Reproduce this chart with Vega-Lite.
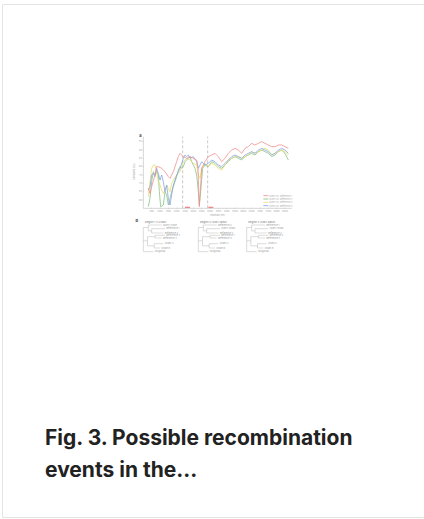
{
  "$schema": "https://vega.github.io/schema/vega-lite/v6.json",
  "width": 424,
  "height": 513,
  "autosize": {"type": "none"},
  "padding": {"left": 2, "top": 4, "right": 0, "bottom": 2},
  "background": "white",
  "config": {"view": {"stroke": "#e4e4e4", "strokeWidth": 1}, "font": "Inter"},
  "title": {
    "text": ["Fig. 3. Possible recombination", "events in the..."],
    "orient": "bottom", "anchor": "start", "frame": "group",
    "offset": -72, "dx": 43,
    "font": "Inter", "fontSize": 21, "fontWeight": 700, "color": "#222222",
    "lineHeight": 31.5, "baseline": "alphabetic"
  },
  "datasets": {
    "sim": [
      {"series":"Reference 2","pos":300,"sim":56},{"series":"Reference 2","pos":400,"sim":61},{"series":"Reference 2","pos":500,"sim":71},{"series":"Reference 2","pos":600,"sim":77},{"series":"Reference 2","pos":700,"sim":75},{"series":"Reference 2","pos":800,"sim":77},{"series":"Reference 2","pos":900,"sim":75},{"series":"Reference 2","pos":960,"sim":65},{"series":"Reference 2","pos":1040,"sim":56},{"series":"Reference 2","pos":1200,"sim":57},{"series":"Reference 2","pos":1300,"sim":65},{"series":"Reference 2","pos":1400,"sim":63},{"series":"Reference 2","pos":1500,"sim":57},{"series":"Reference 2","pos":1600,"sim":61},{"series":"Reference 2","pos":1700,"sim":65},{"series":"Reference 2","pos":1800,"sim":68},{"series":"Reference 2","pos":1900,"sim":71},{"series":"Reference 2","pos":2000,"sim":74},{"series":"Reference 2","pos":2100,"sim":78},{"series":"Reference 2","pos":2200,"sim":80},{"series":"Reference 2","pos":2300,"sim":79},{"series":"Reference 2","pos":2400,"sim":80},{"series":"Reference 2","pos":2500,"sim":83},{"series":"Reference 2","pos":2600,"sim":84},{"series":"Reference 2","pos":2700,"sim":85},{"series":"Reference 2","pos":2800,"sim":86},{"series":"Reference 2","pos":2900,"sim":83},{"series":"Reference 2","pos":3000,"sim":81},{"series":"Reference 2","pos":3100,"sim":79},{"series":"Reference 2","pos":3200,"sim":75},{"series":"Reference 2","pos":3300,"sim":65},{"series":"Reference 2","pos":3360,"sim":57},{"series":"Reference 2","pos":3440,"sim":65},{"series":"Reference 2","pos":3560,"sim":79},{"series":"Reference 2","pos":3700,"sim":81},{"series":"Reference 2","pos":3900,"sim":80},{"series":"Reference 2","pos":4100,"sim":83},{"series":"Reference 2","pos":4300,"sim":82},{"series":"Reference 2","pos":4500,"sim":80},{"series":"Reference 2","pos":4700,"sim":79},{"series":"Reference 2","pos":4900,"sim":81},{"series":"Reference 2","pos":5100,"sim":83},{"series":"Reference 2","pos":5300,"sim":85},{"series":"Reference 2","pos":5500,"sim":86},{"series":"Reference 2","pos":5700,"sim":85},{"series":"Reference 2","pos":5900,"sim":84},{"series":"Reference 2","pos":6100,"sim":86},{"series":"Reference 2","pos":6300,"sim":87},{"series":"Reference 2","pos":6500,"sim":88},{"series":"Reference 2","pos":6700,"sim":87},{"series":"Reference 2","pos":6900,"sim":89},{"series":"Reference 2","pos":7100,"sim":90},{"series":"Reference 2","pos":7300,"sim":89},{"series":"Reference 2","pos":7500,"sim":88},{"series":"Reference 2","pos":7700,"sim":86},{"series":"Reference 2","pos":7900,"sim":87},{"series":"Reference 2","pos":8100,"sim":89},{"series":"Reference 2","pos":8300,"sim":90},{"series":"Reference 2","pos":8500,"sim":88},{"series":"Reference 2","pos":8700,"sim":84},
      {"series":"Reference 3","pos":300,"sim":62},{"series":"Reference 3","pos":400,"sim":71},{"series":"Reference 3","pos":500,"sim":79},{"series":"Reference 3","pos":600,"sim":81},{"series":"Reference 3","pos":700,"sim":81},{"series":"Reference 3","pos":800,"sim":77},{"series":"Reference 3","pos":900,"sim":71},{"series":"Reference 3","pos":1000,"sim":69},{"series":"Reference 3","pos":1100,"sim":66},{"series":"Reference 3","pos":1200,"sim":64},{"series":"Reference 3","pos":1300,"sim":66},{"series":"Reference 3","pos":1400,"sim":69},{"series":"Reference 3","pos":1500,"sim":67},{"series":"Reference 3","pos":1600,"sim":65},{"series":"Reference 3","pos":1700,"sim":70},{"series":"Reference 3","pos":1800,"sim":72},{"series":"Reference 3","pos":2000,"sim":75},{"series":"Reference 3","pos":2200,"sim":77},{"series":"Reference 3","pos":2400,"sim":83},{"series":"Reference 3","pos":2600,"sim":85},{"series":"Reference 3","pos":2800,"sim":84},{"series":"Reference 3","pos":3000,"sim":82},{"series":"Reference 3","pos":3200,"sim":81},{"series":"Reference 3","pos":3300,"sim":75},{"series":"Reference 3","pos":3400,"sim":73},{"series":"Reference 3","pos":3500,"sim":79},{"series":"Reference 3","pos":3700,"sim":82},{"series":"Reference 3","pos":3900,"sim":80},{"series":"Reference 3","pos":4100,"sim":82},{"series":"Reference 3","pos":4300,"sim":81},{"series":"Reference 3","pos":4500,"sim":79},{"series":"Reference 3","pos":4700,"sim":78},{"series":"Reference 3","pos":4900,"sim":81},{"series":"Reference 3","pos":5100,"sim":84},{"series":"Reference 3","pos":5300,"sim":85},{"series":"Reference 3","pos":5500,"sim":86},{"series":"Reference 3","pos":5700,"sim":86},{"series":"Reference 3","pos":5900,"sim":85},{"series":"Reference 3","pos":6100,"sim":86},{"series":"Reference 3","pos":6300,"sim":87},{"series":"Reference 3","pos":6500,"sim":89},{"series":"Reference 3","pos":6700,"sim":88},{"series":"Reference 3","pos":6900,"sim":89},{"series":"Reference 3","pos":7100,"sim":90},{"series":"Reference 3","pos":7300,"sim":91},{"series":"Reference 3","pos":7500,"sim":90},{"series":"Reference 3","pos":7700,"sim":87},{"series":"Reference 3","pos":7900,"sim":88},{"series":"Reference 3","pos":8100,"sim":89},{"series":"Reference 3","pos":8300,"sim":90},{"series":"Reference 3","pos":8500,"sim":89},{"series":"Reference 3","pos":8700,"sim":87},
      {"series":"Reference 4","pos":300,"sim":66},{"series":"Reference 4","pos":400,"sim":68},{"series":"Reference 4","pos":500,"sim":75},{"series":"Reference 4","pos":600,"sim":76},{"series":"Reference 4","pos":700,"sim":74},{"series":"Reference 4","pos":800,"sim":79},{"series":"Reference 4","pos":900,"sim":76},{"series":"Reference 4","pos":1000,"sim":72},{"series":"Reference 4","pos":1100,"sim":75},{"series":"Reference 4","pos":1200,"sim":71},{"series":"Reference 4","pos":1300,"sim":65},{"series":"Reference 4","pos":1400,"sim":69},{"series":"Reference 4","pos":1500,"sim":61},{"series":"Reference 4","pos":1600,"sim":57},{"series":"Reference 4","pos":1700,"sim":63},{"series":"Reference 4","pos":1800,"sim":69},{"series":"Reference 4","pos":2000,"sim":75},{"series":"Reference 4","pos":2200,"sim":79},{"series":"Reference 4","pos":2400,"sim":85},{"series":"Reference 4","pos":2500,"sim":87},{"series":"Reference 4","pos":2600,"sim":86},{"series":"Reference 4","pos":2700,"sim":87},{"series":"Reference 4","pos":2800,"sim":85},{"series":"Reference 4","pos":3000,"sim":86},{"series":"Reference 4","pos":3200,"sim":83},{"series":"Reference 4","pos":3300,"sim":79},{"series":"Reference 4","pos":3400,"sim":81},{"series":"Reference 4","pos":3500,"sim":83},{"series":"Reference 4","pos":3700,"sim":81},{"series":"Reference 4","pos":3900,"sim":82},{"series":"Reference 4","pos":4100,"sim":84},{"series":"Reference 4","pos":4300,"sim":83},{"series":"Reference 4","pos":4500,"sim":81},{"series":"Reference 4","pos":4700,"sim":80},{"series":"Reference 4","pos":4900,"sim":82},{"series":"Reference 4","pos":5100,"sim":84},{"series":"Reference 4","pos":5300,"sim":86},{"series":"Reference 4","pos":5500,"sim":87},{"series":"Reference 4","pos":5700,"sim":86},{"series":"Reference 4","pos":5900,"sim":85},{"series":"Reference 4","pos":6100,"sim":87},{"series":"Reference 4","pos":6300,"sim":88},{"series":"Reference 4","pos":6500,"sim":89},{"series":"Reference 4","pos":6700,"sim":88},{"series":"Reference 4","pos":6900,"sim":90},{"series":"Reference 4","pos":7100,"sim":91},{"series":"Reference 4","pos":7300,"sim":90},{"series":"Reference 4","pos":7500,"sim":89},{"series":"Reference 4","pos":7700,"sim":87},{"series":"Reference 4","pos":7900,"sim":88},{"series":"Reference 4","pos":8100,"sim":90},{"series":"Reference 4","pos":8300,"sim":91},{"series":"Reference 4","pos":8500,"sim":90},{"series":"Reference 4","pos":8700,"sim":88},
      {"series":"Reference 1","pos":300,"sim":67},{"series":"Reference 1","pos":400,"sim":64},{"series":"Reference 1","pos":500,"sim":68},{"series":"Reference 1","pos":700,"sim":75},{"series":"Reference 1","pos":800,"sim":80},{"series":"Reference 1","pos":900,"sim":80},{"series":"Reference 1","pos":1100,"sim":79},{"series":"Reference 1","pos":1300,"sim":77},{"series":"Reference 1","pos":1500,"sim":74},{"series":"Reference 1","pos":1600,"sim":73},{"series":"Reference 1","pos":1800,"sim":77},{"series":"Reference 1","pos":2000,"sim":83},{"series":"Reference 1","pos":2100,"sim":86},{"series":"Reference 1","pos":2200,"sim":88},{"series":"Reference 1","pos":2400,"sim":86},{"series":"Reference 1","pos":2600,"sim":85},{"series":"Reference 1","pos":2800,"sim":86},{"series":"Reference 1","pos":3000,"sim":85},{"series":"Reference 1","pos":3200,"sim":84},{"series":"Reference 1","pos":3280,"sim":79},{"series":"Reference 1","pos":3360,"sim":56},{"series":"Reference 1","pos":3440,"sim":69},{"series":"Reference 1","pos":3500,"sim":79},{"series":"Reference 1","pos":3700,"sim":83},{"series":"Reference 1","pos":3900,"sim":86},{"series":"Reference 1","pos":4100,"sim":87},{"series":"Reference 1","pos":4300,"sim":88},{"series":"Reference 1","pos":4500,"sim":86},{"series":"Reference 1","pos":4700,"sim":83},{"series":"Reference 1","pos":4900,"sim":85},{"series":"Reference 1","pos":5100,"sim":88},{"series":"Reference 1","pos":5300,"sim":90},{"series":"Reference 1","pos":5500,"sim":91},{"series":"Reference 1","pos":5700,"sim":90},{"series":"Reference 1","pos":5900,"sim":88},{"series":"Reference 1","pos":6100,"sim":91},{"series":"Reference 1","pos":6300,"sim":92},{"series":"Reference 1","pos":6500,"sim":94},{"series":"Reference 1","pos":6700,"sim":93},{"series":"Reference 1","pos":6900,"sim":94},{"series":"Reference 1","pos":7100,"sim":95},{"series":"Reference 1","pos":7300,"sim":94},{"series":"Reference 1","pos":7500,"sim":93},{"series":"Reference 1","pos":7700,"sim":92},{"series":"Reference 1","pos":7900,"sim":92},{"series":"Reference 1","pos":8100,"sim":93},{"series":"Reference 1","pos":8300,"sim":93},{"series":"Reference 1","pos":8500,"sim":92},{"series":"Reference 1","pos":8700,"sim":91}
    ],
    "legend": [
      {"series":"Reference 1","pos":7200,"pos2":7500,"sim":62.6,"label":"Query vs. Reference 1"},
      {"series":"Reference 2","pos":7200,"pos2":7500,"sim":60.6,"label":"Query vs. Reference 2"},
      {"series":"Reference 3","pos":7200,"pos2":7500,"sim":58.6,"label":"Query vs. Reference 3"},
      {"series":"Reference 4","pos":7200,"pos2":7500,"sim":56.6,"label":"Query vs. Reference 4"}
    ],
    "frame": [
      {"x1":0,"x2":0,"y1":55,"y2":98},
      {"x1":0,"x2":8900,"y1":55,"y2":55}
    ],
    "xticks": [
      {"v":500,"t":"500"},{"v":1000,"t":"1000"},{"v":1500,"t":"1500"},{"v":2000,"t":"2000"},{"v":2500,"t":"2500"},{"v":3000,"t":"3000"},{"v":3500,"t":"3500"},{"v":4000,"t":"4000"},{"v":4500,"t":"4500"},{"v":5000,"t":"5000"},{"v":5500,"t":"5500"},{"v":6000,"t":"6000"},{"v":6500,"t":"6500"},{"v":7000,"t":"7000"},{"v":7500,"t":"7500"},{"v":8000,"t":"8000"},{"v":8500,"t":"8500"}
    ],
    "yticks": [
      {"v":60,"t":"60"},{"v":65,"t":"65"},{"v":70,"t":"70"},{"v":75,"t":"75"},{"v":80,"t":"80"},{"v":85,"t":"85"},{"v":90,"t":"90"},{"v":95,"t":"95"}
    ],
    "breaks": [{"pos":2360},{"pos":3860}],
    "bars": [{"x1":2500,"x2":2800},{"x1":3900,"x2":4200}],
    "tree": [
      {"x1":0,"x2":0,"y1":43.5,"y2":29},{"x1":0,"x2":300,"y1":43.5,"y2":43.5},{"x1":300,"x2":300,"y1":45,"y2":41.5},{"x1":300,"x2":1100,"y1":45,"y2":45},{"x1":300,"x2":500,"y1":41.5,"y2":41.5},{"x1":500,"x2":500,"y1":42.8,"y2":40.2},{"x1":500,"x2":1300,"y1":42.8,"y2":42.8},{"x1":500,"x2":1200,"y1":40.2,"y2":40.2},{"x1":0,"x2":250,"y1":35.5,"y2":35.5},{"x1":250,"x2":250,"y1":38,"y2":32.5},{"x1":250,"x2":700,"y1":38,"y2":38},{"x1":700,"x2":700,"y1":38.8,"y2":37.2},{"x1":700,"x2":1300,"y1":38.8,"y2":38.8},{"x1":700,"x2":1100,"y1":37.2,"y2":37.2},{"x1":250,"x2":650,"y1":32.5,"y2":32.5},{"x1":650,"x2":650,"y1":33.8,"y2":31.2},{"x1":650,"x2":1200,"y1":33.8,"y2":33.8},{"x1":650,"x2":1000,"y1":31.2,"y2":31.2},{"x1":0,"x2":600,"y1":29,"y2":29},
      {"x1":3300,"x2":3300,"y1":43.5,"y2":29},{"x1":3300,"x2":3600,"y1":43.5,"y2":43.5},{"x1":3600,"x2":3600,"y1":45,"y2":41.5},{"x1":3600,"x2":4400,"y1":45,"y2":45},{"x1":3600,"x2":3800,"y1":41.5,"y2":41.5},{"x1":3800,"x2":3800,"y1":42.8,"y2":40.2},{"x1":3800,"x2":4600,"y1":42.8,"y2":42.8},{"x1":3800,"x2":4500,"y1":40.2,"y2":40.2},{"x1":3300,"x2":3550,"y1":35.5,"y2":35.5},{"x1":3550,"x2":3550,"y1":38,"y2":32.5},{"x1":3550,"x2":4000,"y1":38,"y2":38},{"x1":4000,"x2":4000,"y1":38.8,"y2":37.2},{"x1":4000,"x2":4600,"y1":38.8,"y2":38.8},{"x1":4000,"x2":4400,"y1":37.2,"y2":37.2},{"x1":3550,"x2":3950,"y1":32.5,"y2":32.5},{"x1":3950,"x2":3950,"y1":33.8,"y2":31.2},{"x1":3950,"x2":4500,"y1":33.8,"y2":33.8},{"x1":3950,"x2":4300,"y1":31.2,"y2":31.2},{"x1":3300,"x2":3900,"y1":29,"y2":29},
      {"x1":6200,"x2":6200,"y1":43.5,"y2":29},{"x1":6200,"x2":6500,"y1":43.5,"y2":43.5},{"x1":6500,"x2":6500,"y1":45,"y2":41.5},{"x1":6500,"x2":7300,"y1":45,"y2":45},{"x1":6500,"x2":6700,"y1":41.5,"y2":41.5},{"x1":6700,"x2":6700,"y1":42.8,"y2":40.2},{"x1":6700,"x2":7500,"y1":42.8,"y2":42.8},{"x1":6700,"x2":7400,"y1":40.2,"y2":40.2},{"x1":6200,"x2":6450,"y1":35.5,"y2":35.5},{"x1":6450,"x2":6450,"y1":38,"y2":32.5},{"x1":6450,"x2":6900,"y1":38,"y2":38},{"x1":6900,"x2":6900,"y1":38.8,"y2":37.2},{"x1":6900,"x2":7500,"y1":38.8,"y2":38.8},{"x1":6900,"x2":7300,"y1":37.2,"y2":37.2},{"x1":6450,"x2":6850,"y1":32.5,"y2":32.5},{"x1":6850,"x2":6850,"y1":33.8,"y2":31.2},{"x1":6850,"x2":7400,"y1":33.8,"y2":33.8},{"x1":6850,"x2":7200,"y1":31.2,"y2":31.2},{"x1":6200,"x2":6800,"y1":29,"y2":29}
    ],
    "leaves": [
      {"x":1180,"y":45,"t":"Query strain"},{"x":1380,"y":42.8,"t":"Reference 1"},{"x":1280,"y":40.2,"t":"Reference 2"},{"x":1380,"y":38.8,"t":"Reference 3"},{"x":1180,"y":37.2,"t":"Reference 4"},{"x":1280,"y":33.8,"t":"Strain A"},{"x":1080,"y":31.2,"t":"Strain B"},{"x":680,"y":29,"t":"Outgroup"},
      {"x":4480,"y":45,"t":"Reference 2"},{"x":4680,"y":42.8,"t":"Query strain"},{"x":4580,"y":40.2,"t":"Reference 3"},{"x":4680,"y":38.8,"t":"Reference 1"},{"x":4480,"y":37.2,"t":"Reference 4"},{"x":4580,"y":33.8,"t":"Strain A"},{"x":4380,"y":31.2,"t":"Strain B"},{"x":3980,"y":29,"t":"Outgroup"},
      {"x":7380,"y":45,"t":"Reference 1"},{"x":7580,"y":42.8,"t":"Query strain"},{"x":7480,"y":40.2,"t":"Reference 4"},{"x":7580,"y":38.8,"t":"Reference 2"},{"x":7380,"y":37.2,"t":"Reference 3"},{"x":7480,"y":33.8,"t":"Strain A"},{"x":7280,"y":31.2,"t":"Strain B"},{"x":6880,"y":29,"t":"Outgroup"}
    ],
    "treeTitles": [
      {"x":100,"y":46.8,"t":"Region 1 (1-2360)"},
      {"x":3400,"y":46.8,"t":"Region 2 (2361-3860)"},
      {"x":6300,"y":46.8,"t":"Region 3 (3861-8900)"}
    ],
    "panels": [
      {"x":-180,"y":98.5,"t":"a"},
      {"x":-400,"y":47.5,"t":"b"}
    ],
    "axisTitles": [
      {"x":4450,"y":51.3,"t":"Position (nt)","a":"x"},
      {"x":-560,"y":77,"t":"Similarity (%)","a":"y"}
    ]
  },
  "layer": [
    {
      "data": {"name": "tree"},
      "mark": {"type": "rule", "color": "#b8b8b8", "strokeWidth": 0.5},
      "encoding": {
        "x": {"field": "x1", "type": "quantitative", "scale": {"domain": [-8480, 16960], "nice": false, "zero": false}, "axis": null},
        "x2": {"field": "x2"},
        "y": {"field": "y1", "type": "quantitative", "scale": {"domain": [-130.2, 177.6], "nice": false, "zero": false}, "axis": null},
        "y2": {"field": "y2"}
      }
    },
    {
      "data": {"name": "leaves"},
      "mark": {"type": "text", "fontSize": 2.4, "color": "#a0a0a0", "align": "left", "baseline": "middle"},
      "encoding": {
        "x": {"field": "x", "type": "quantitative"},
        "y": {"field": "y", "type": "quantitative"},
        "text": {"field": "t"}
      }
    },
    {
      "data": {"name": "treeTitles"},
      "mark": {"type": "text", "fontSize": 2.6, "color": "#777777", "align": "left", "baseline": "middle"},
      "encoding": {
        "x": {"field": "x", "type": "quantitative"},
        "y": {"field": "y", "type": "quantitative"},
        "text": {"field": "t"}
      }
    },
    {
      "data": {"name": "frame"},
      "mark": {"type": "rule", "color": "#bbbbbb", "strokeWidth": 0.6},
      "encoding": {
        "x": {"field": "x1", "type": "quantitative"},
        "x2": {"field": "x2"},
        "y": {"field": "y1", "type": "quantitative"},
        "y2": {"field": "y2"}
      }
    },
    {
      "data": {"name": "xticks"},
      "layer": [
        {
          "mark": {"type": "tick", "orient": "vertical", "color": "#bbbbbb", "size": 1.5, "thickness": 0.5},
          "encoding": {
            "x": {"field": "v", "type": "quantitative"},
            "y": {"datum": 55, "type": "quantitative"}
          }
        },
        {
          "mark": {"type": "text", "fontSize": 2.3, "color": "#aaaaaa", "baseline": "middle"},
          "encoding": {
            "x": {"field": "v", "type": "quantitative"},
            "y": {"datum": 53.3, "type": "quantitative"},
            "text": {"field": "t"}
          }
        }
      ]
    },
    {
      "data": {"name": "yticks"},
      "layer": [
        {
          "mark": {"type": "tick", "orient": "horizontal", "color": "#bbbbbb", "size": 1.5, "thickness": 0.5},
          "encoding": {
            "x": {"datum": 0, "type": "quantitative"},
            "y": {"field": "v", "type": "quantitative"}
          }
        },
        {
          "mark": {"type": "text", "fontSize": 2.3, "color": "#aaaaaa", "align": "right", "baseline": "middle"},
          "encoding": {
            "x": {"datum": -90, "type": "quantitative"},
            "y": {"field": "v", "type": "quantitative"},
            "text": {"field": "t"}
          }
        }
      ]
    },
    {
      "data": {"name": "axisTitles"},
      "transform": [{"filter": "datum.a == 'x'"}],
      "mark": {"type": "text", "fontSize": 2.6, "color": "#999999", "baseline": "middle"},
      "encoding": {
        "x": {"field": "x", "type": "quantitative"},
        "y": {"field": "y", "type": "quantitative"},
        "text": {"field": "t"}
      }
    },
    {
      "data": {"name": "axisTitles"},
      "transform": [{"filter": "datum.a == 'y'"}],
      "mark": {"type": "text", "fontSize": 2.6, "color": "#999999", "baseline": "middle", "angle": 270},
      "encoding": {
        "x": {"field": "x", "type": "quantitative"},
        "y": {"field": "y", "type": "quantitative"},
        "text": {"field": "t"}
      }
    },
    {
      "data": {"name": "panels"},
      "mark": {"type": "text", "fontSize": 4, "fontWeight": 700, "color": "#333333", "baseline": "middle"},
      "encoding": {
        "x": {"field": "x", "type": "quantitative"},
        "y": {"field": "y", "type": "quantitative"},
        "text": {"field": "t"}
      }
    },
    {
      "data": {"name": "breaks"},
      "mark": {"type": "rule", "color": "#b0b0b0", "strokeWidth": 0.7, "strokeDash": [3, 2]},
      "encoding": {
        "x": {"field": "pos", "type": "quantitative"},
        "y": {"datum": 55, "type": "quantitative"},
        "y2": {"datum": 98}
      }
    },
    {
      "data": {"name": "bars"},
      "mark": {"type": "rule", "color": "#f08080", "strokeWidth": 1.2},
      "encoding": {
        "x": {"field": "x1", "type": "quantitative"},
        "x2": {"field": "x2"},
        "y": {"datum": 55.6, "type": "quantitative"}
      }
    },
    {
      "data": {"name": "sim"},
      "mark": {"type": "line", "strokeWidth": 0.75, "interpolate": "linear"},
      "encoding": {
        "x": {"field": "pos", "type": "quantitative"},
        "y": {"field": "sim", "type": "quantitative"},
        "color": {
          "field": "series", "type": "nominal",
          "scale": {"domain": ["Reference 1", "Reference 2", "Reference 3", "Reference 4"], "range": ["#f28a8a", "#82bd82", "#e6dc64", "#819fe4"]},
          "legend": null
        }
      }
    },
    {
      "data": {"name": "legend"},
      "layer": [
        {
          "mark": {"type": "rule", "strokeWidth": 0.8},
          "encoding": {
            "x": {"field": "pos", "type": "quantitative"},
            "x2": {"field": "pos2"},
            "y": {"field": "sim", "type": "quantitative"},
            "color": {"field": "series", "type": "nominal", "legend": null}
          }
        },
        {
          "mark": {"type": "text", "fontSize": 2.2, "color": "#aaaaaa", "align": "left", "baseline": "middle", "dx": 1},
          "encoding": {
            "x": {"field": "pos2", "type": "quantitative"},
            "y": {"field": "sim", "type": "quantitative"},
            "text": {"field": "label"}
          }
        }
      ]
    }
  ]
}
